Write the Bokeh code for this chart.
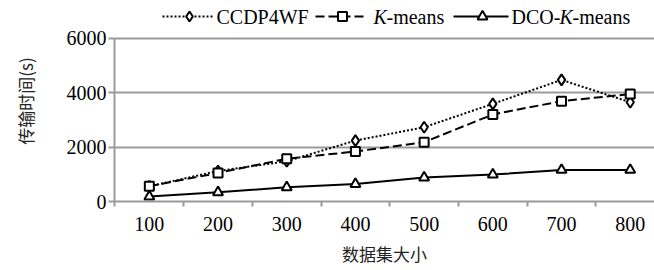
from bokeh.plotting import figure
from bokeh.models import Range1d, FixedTicker
from bokeh.core.properties import value
from bokeh.embed import file_html
from bokeh.resources import INLINE

# ---- data ----
sizes = [100, 200, 300, 400, 500, 600, 700, 800]
ccdp4wf = [560, 1120, 1480, 2240, 2730, 3590, 4470, 3650]
kmeans = [560, 1050, 1570, 1840, 2180, 3200, 3690, 3950]
dco_kmeans = [180, 340, 520, 640, 880, 990, 1160, 1160]
y_ticks = [0, 2000, 4000, 6000]
x_label = "数据集大小"
y_label = "传输时间(s)"

GRAY = "#9a9a9a"
SERIF = "Times New Roman"
FS = "20px"
LFS = "20px"
CJK_FS = "17px"

# ---- page geometry (layout only; Bokeh's page has no body margin) ----
W, H = 654, 270
FRAME_L, FRAME_R = 114, 654
FRAME_T, Y0 = 0, 201
PX_PER_X = 0.687
PX_PER_Y = 0.0272
X_START = 49.3
X_END = X_START + (FRAME_R - FRAME_L) / PX_PER_X
Y_END = (Y0 - FRAME_T) / PX_PER_Y


def dx(px):
    return X_START + (px - FRAME_L) / PX_PER_X


def dy(py):
    return (Y0 - py) / PX_PER_Y


p = figure(width=W, height=H, x_range=Range1d(X_START, X_END), y_range=Range1d(0, Y_END),
           toolbar_location=None, output_backend="svg",
           min_border_left=FRAME_L, min_border_right=0, min_border_top=0,
           min_border_bottom=H - Y0, outline_line_color=None)

p.line(sizes, ccdp4wf, line_color="black", line_width=2, line_dash="2 2")
p.scatter(sizes, ccdp4wf, marker="diamond", size=11, fill_color="white", line_color="black", line_width=2)
p.line(sizes, kmeans, line_color="black", line_width=2, line_dash="9 4")
p.scatter(sizes, kmeans, marker="square", size=9, fill_color="white", line_color="black", line_width=2)
p.line(sizes, dco_kmeans, line_color="black", line_width=2)
p.scatter(sizes, dco_kmeans, marker="triangle", size=10, fill_color="white", line_color="black", line_width=2)

# ---- legend (drawn by hand so that K can be italic) ----
ly = dy(16)
leg_text = dict(text_font=value(SERIF), text_font_size=LFS, text_baseline="middle",
                text_align="left", text_color="black")
p.line([dx(162), dx(213)], [ly, ly], line_color="black", line_width=2, line_dash="2 2")
p.scatter([dx(189)], [ly], marker="diamond", size=10, fill_color="white", line_color="black", line_width=2)
p.text([dx(216)], [ly], text=["CCDP4WF"], **leg_text)
p.line([dx(315), dx(367)], [ly, ly], line_color="black", line_width=2, line_dash="9 4")
p.scatter([dx(342)], [ly], marker="square", size=9, fill_color="white", line_color="black", line_width=2)
p.text([dx(373)], [ly], text=["K"], text_font_style="italic", **leg_text)
p.text([dx(386)], [ly], text=["-means"], **leg_text)
p.line([dx(453), dx(508)], [ly, ly], line_color="black", line_width=2)
p.scatter([dx(482)], [ly], marker="triangle", size=10, fill_color="white", line_color="black", line_width=2)
p.text([dx(511)], [ly], text=["DCO-"], **leg_text)
p.text([dx(559)], [ly], text=["K"], text_font_style="italic", **leg_text)
p.text([dx(572)], [ly], text=["-means"], **leg_text)

# ---- axes ----
p.xaxis.ticker = FixedTicker(ticks=sizes, minor_ticks=[s - 50 for s in sizes] + [sizes[-1] + 50])
p.xaxis.major_tick_out = 0
p.xaxis.major_tick_in = 0
p.xaxis.minor_tick_out = 5
p.xaxis.minor_tick_in = 0
p.xaxis.minor_tick_line_color = GRAY
p.xaxis.minor_tick_line_width = 2
p.xaxis.major_label_standoff = 10
p.xaxis.axis_label = x_label
p.xaxis.axis_label_standoff = 7

p.yaxis.ticker = FixedTicker(ticks=y_ticks, minor_ticks=[])
p.yaxis.bounds = (0, 6000)
p.yaxis.major_tick_out = 6
p.yaxis.major_tick_in = 0
p.yaxis.major_label_standoff = 2
p.yaxis.axis_label = y_label
p.yaxis.axis_label_standoff = 26

for ax in (p.xaxis, p.yaxis):
    ax.axis_line_color = GRAY
    ax.axis_line_width = 2
    ax.major_tick_line_color = GRAY
    ax.major_tick_line_width = 2
    ax.major_label_text_font = SERIF
    ax.major_label_text_font_size = FS
    ax.major_label_text_font_style = "normal"
    ax.major_label_text_color = "black"
    ax.axis_label_text_font = "Noto Sans CJK SC"
    ax.axis_label_text_font_size = CJK_FS
    ax.axis_label_text_font_style = "normal"
    ax.axis_label_text_color = "#222222"

p.xgrid.visible = False
p.ygrid.ticker = FixedTicker(ticks=y_ticks)
p.ygrid.grid_line_color = GRAY
p.ygrid.grid_line_width = 2

open("out.html", "w").write(file_html(p, INLINE))
